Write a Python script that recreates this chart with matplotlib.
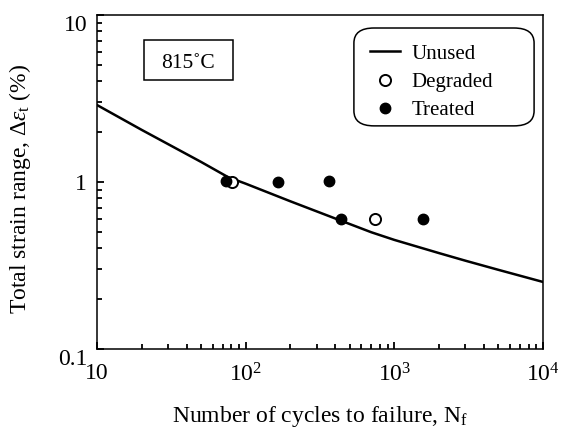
import numpy as np
import matplotlib
matplotlib.use("Agg")
import matplotlib.pyplot as plt
import matplotlib.transforms as mtransforms
from matplotlib.patches import FancyBboxPatch, Rectangle
from matplotlib.ticker import LogLocator, FixedLocator, NullFormatter

plt.rcParams['font.family'] = ['Liberation Serif', 'DejaVu Serif']
plt.rcParams['mathtext.fontset'] = 'custom'
plt.rcParams['mathtext.rm'] = 'Liberation Serif'
plt.rcParams['mathtext.it'] = 'Liberation Serif:italic'

# unused material curve
unused_n = [10, 20, 50, 76, 100, 200, 430, 700, 1000, 2000, 3000, 5000, 10000]
unused_strain = [2.89, 2.05, 1.32, 1.07, 0.977, 0.766, 0.59, 0.50, 0.45, 0.375, 0.338, 0.298, 0.252]

degraded_n = [81, 741]
degraded_strain = [1.0, 0.6]

treated_n = [74, 165, 363, 438, 1557]
treated_strain = [1.02, 1.0, 1.02, 0.6, 0.6]

x_ticks = [10, 100, 1000, 10000]
x_labels = ['10', r'10$^2$', r'10$^3$', r'10$^4$']
y_ticks = [0.1, 1, 10]
y_labels = ['0.1', '1', '10']

fs = 17

fig = plt.figure(figsize=(5.63, 4.28), dpi=100)
ax = fig.add_axes([0.1723, 0.1846, 0.7922, 0.7804])

ax.plot(unused_n, unused_strain, color='black', lw=1.8, label='Unused')
ax.plot(degraded_n, degraded_strain, 'o', mfc='white', mec='black', mew=1.4,
        ms=8, label='Degraded')
ax.plot(treated_n, treated_strain, 'o', color='black', ms=7.5, label='Treated')

ax.set_xscale('log')
ax.set_yscale('log')
ax.set_xlim(10, 10000)
ax.set_ylim(0.1, 10)
ax.xaxis.set_major_locator(FixedLocator(x_ticks))
ax.set_xticklabels(x_labels)
ax.yaxis.set_major_locator(FixedLocator(y_ticks))
ax.set_yticklabels(y_labels)
ax.xaxis.set_minor_locator(LogLocator(base=10, subs=np.arange(2, 10)))
ax.yaxis.set_minor_locator(LogLocator(base=10, subs=np.arange(2, 10)))
ax.xaxis.set_minor_formatter(NullFormatter())
ax.yaxis.set_minor_formatter(NullFormatter())

ax.tick_params(which='both', direction='in', top=False, right=False,
               labelsize=fs, width=1.3)
ax.tick_params(axis='x', which='major', length=5, pad=10)
ax.tick_params(axis='y', which='major', length=5, pad=7)
ax.tick_params(which='minor', length=3.5)
for sp in ax.spines.values():
    sp.set_linewidth(1.1)

# end labels of the y axis sit a bit lower in the original
for lbl in ax.get_yticklabels():
    if lbl.get_text() in ('0.1', '10'):
        lbl.set_transform(lbl.get_transform() +
                          mtransforms.ScaledTranslation(0, -6 / 72, fig.dpi_scale_trans))

ax.set_xlabel(r'Number of cycles to failure, N$_{\rm f}$', fontsize=fs, labelpad=13)
ax.set_ylabel(r'Total strain range, $\Delta\varepsilon_{\rm t}$ (%)', fontsize=fs)
ax.yaxis.set_label_coords(-0.143, 0.48)

# temperature box
ax.add_patch(Rectangle((0.105, 0.805), 0.2, 0.12, transform=ax.transAxes,
                       fc='white', ec='black', lw=1.1, zorder=3))
ax.text(0.205, 0.855, '815˚C', transform=ax.transAxes, fontsize=15.5,
        va='center', ha='center', zorder=4)

# legend: rounded frame drawn separately so it can be wider than its text
ax.add_patch(FancyBboxPatch((0.576, 0.668), 0.404, 0.293,
                            boxstyle='round,pad=0,rounding_size=0.045',
                            transform=ax.transAxes, fc='white', ec='black',
                            lw=1.1, zorder=3))
leg = ax.legend(loc='upper left', bbox_to_anchor=(0.612, 0.913), fontsize=15,
                frameon=False, handlelength=1.45, handletextpad=0.55,
                labelspacing=0.42, borderpad=0, borderaxespad=0)
leg.set_zorder(5)

fig.savefig('out.png', dpi=100)
